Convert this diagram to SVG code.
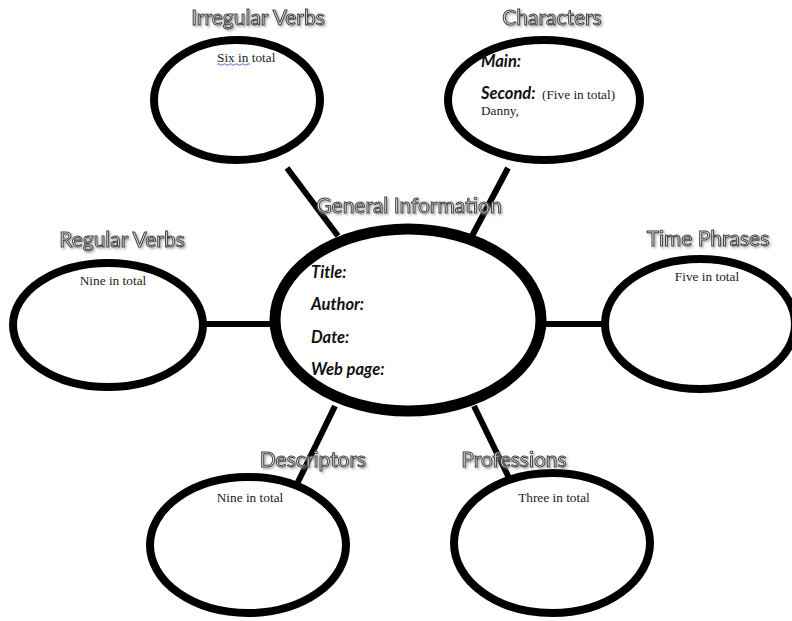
<svg xmlns="http://www.w3.org/2000/svg" width="792" height="621" viewBox="0 0 792 621">
<defs>
<filter id="sh" x="-10%" y="-30%" width="120%" height="160%">
<feDropShadow dx="1.5" dy="1.5" stdDeviation="0.8" flood-color="#999" flood-opacity="0.8"/>
</filter>
</defs>
<style>
.node{fill:#fff;stroke:#000;stroke-width:8}
.main{stroke-width:11}
.conn line{stroke:#000;stroke-width:6}
.title{font-family:Lato,"Liberation Sans",sans-serif;font-size:21px;fill:#e6e6e6;stroke:#444;stroke-width:1;text-anchor:middle;filter:url(#sh)}
.note{font-family:"Liberation Serif",serif;font-size:13.3px;fill:#222}
.lbl{font-family:Lato,"Liberation Sans",sans-serif;font-size:16.5px;font-weight:bold;font-style:italic;fill:#111}
</style>
<rect width="792" height="621" fill="#fff"/>
<g id="connectors" class="conn">
<line x1="287" y1="168" x2="338" y2="236"/>
<line x1="508" y1="168" x2="472" y2="236"/>
<line x1="205" y1="324" x2="273" y2="324"/>
<line x1="543" y1="324" x2="605" y2="324"/>
<line x1="335" y1="406" x2="297" y2="484"/>
<line x1="474" y1="406" x2="510" y2="480"/>
</g>
<g id="irregular">
<ellipse class="node" cx="237" cy="100" rx="83" ry="60"/>
<text class="title" x="258" y="25">Irregular Verbs</text>
<text class="note" x="217" y="62">Six in total</text>
<path d="M217 64.5 q1.5 -1.5 3 0 t3 0 t3 0 t3 0 t3 0 t3 0 t3 0 t3 0 t3 0 t3 0 t3 0" fill="none" stroke="#2b3de0" stroke-width="0.8"/>
</g>
<g id="characters">
<ellipse class="node" cx="544" cy="100" rx="96" ry="60"/>
<text class="title" x="552" y="25">Characters</text>
<text class="lbl" x="481" y="67">Main:</text>
<text class="lbl" x="481" y="99">Second:</text>
<text class="note" x="542" y="99">(Five in total)</text>
<text class="note" x="481" y="115">Danny,</text>
</g>
<g id="general">
<ellipse class="node main" cx="408" cy="320" rx="133" ry="91"/>
<text class="title" x="409" y="213">General Information</text>
<text class="lbl" x="311" y="278">Title:</text>
<text class="lbl" x="311" y="310">Author:</text>
<text class="lbl" x="311" y="343">Date:</text>
<text class="lbl" x="311" y="375">Web page:</text>
</g>
<g id="regular">
<ellipse class="node" cx="108" cy="325" rx="95" ry="62"/>
<text class="title" x="122" y="247">Regular Verbs</text>
<text class="note" x="113" y="285" text-anchor="middle">Nine in total</text>
</g>
<g id="time">
<ellipse class="node" cx="700" cy="324" rx="95" ry="65"/>
<text class="title" x="708" y="246">Time Phrases</text>
<text class="note" x="707" y="281" text-anchor="middle">Five in total</text>
</g>
<g id="descriptors">
<ellipse class="node" cx="248" cy="545" rx="98" ry="68"/>
<text class="title" x="313" y="467">Descriptors</text>
<text class="note" x="250" y="502" text-anchor="middle">Nine in total</text>
</g>
<g id="professions">
<ellipse class="node" cx="552" cy="543" rx="98" ry="70"/>
<text class="title" x="514" y="467">Professions</text>
<text class="note" x="554" y="502" text-anchor="middle">Three in total</text>
</g>
</svg>
